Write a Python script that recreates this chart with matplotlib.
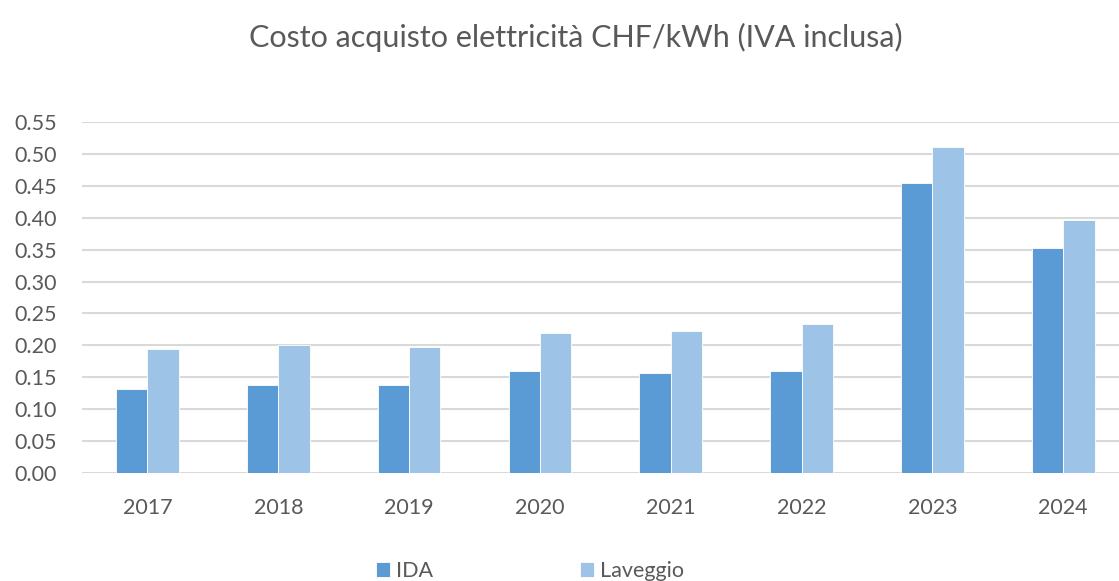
import numpy as np
import matplotlib
matplotlib.use("Agg")
import matplotlib.pyplot as plt

# data
years = ["2017", "2018", "2019", "2020", "2021", "2022", "2023", "2024"]
ida = [0.131, 0.137, 0.137, 0.160, 0.156, 0.160, 0.455, 0.352]
laveggio = [0.194, 0.200, 0.197, 0.220, 0.223, 0.233, 0.512, 0.396]

plt.rcParams['font.family'] = ['Lato', 'DejaVu Sans']
txt = '#595959'

fig = plt.figure(figsize=(11.19, 5.81), dpi=100)
W, H = 1119, 581
left, right = 82, 1128.7
bottom, top = 472.7, 122.3
ax = fig.add_axes([left / W, 1 - bottom / H, (right - left) / W, (bottom - top) / H])

x = np.arange(len(years))
w = 0.24
ax.bar(x - w / 2, ida, w, color='#5B9BD5', edgecolor='white', linewidth=0.6, label='IDA', zorder=3)
ax.bar(x + w / 2, laveggio, w, color='#9DC3E6', edgecolor='white', linewidth=0.6, label='Laveggio', zorder=3)

ax.set_xlim(-0.5, len(years) - 0.5)
ax.set_ylim(0, 0.55)
ax.set_yticks(np.arange(0, 0.551, 0.05))
ax.set_yticklabels([f"{v:.2f}" for v in np.arange(0, 0.551, 0.05)])
ax.set_xticks(x)
ax.set_xticklabels(years)
ax.tick_params(axis='both', length=0, labelsize=15.5, colors=txt)
ax.tick_params(axis='y', pad=18)
ax.tick_params(axis='x', pad=18)
ax.grid(axis='y', color='#D9D9D9', linewidth=1.5, zorder=0)
for s in ax.spines.values():
    s.set_visible(False)

fig.text(576 / W, 1 - 37 / H, "Costo acquisto elettricità CHF/kWh (IVA inclusa)",
         ha='center', va='center', fontsize=22, color=txt)

leg = fig.legend(loc='center', bbox_to_anchor=(530 / W, 1 - 571 / H), ncol=2, frameon=False,
                 fontsize=15.5, handlelength=0.65, handleheight=0.65, handletextpad=0.3,
                 columnspacing=6.8)
for t in leg.get_texts():
    t.set_color(txt)

fig.savefig("out.png", dpi=100)
